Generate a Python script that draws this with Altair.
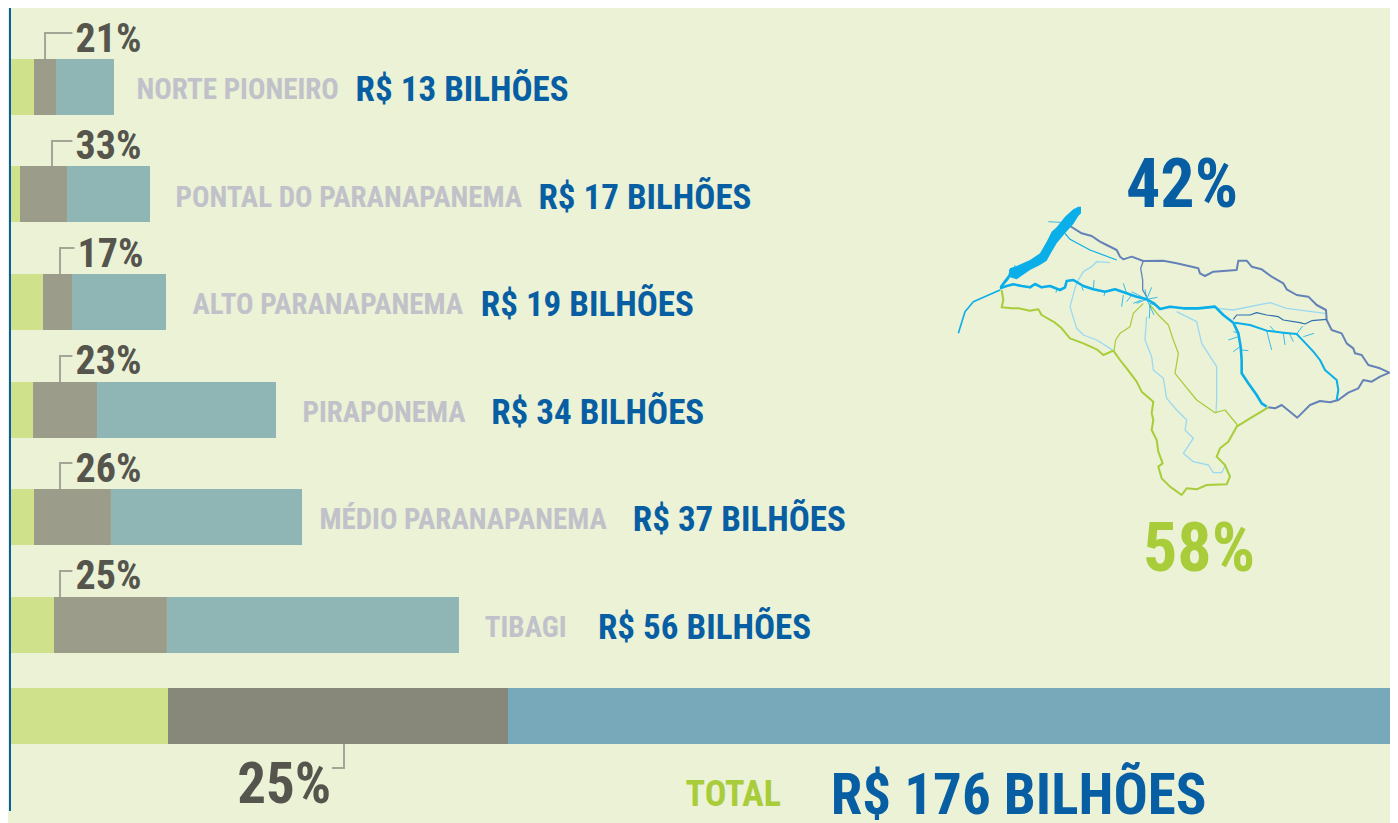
import altair as alt
import pandas as pd

# ---- Bars (R$ billions) ----
regions = ["NORTE PIONEIRO", "PONTAL DO PARANAPANEMA", "ALTO PARANAPANEMA", "PIRAPONEMA", "MÉDIO PARANAPANEMA", "TIBAGI"]
values = ["R$ 13 BILHÕES", "R$ 17 BILHÕES", "R$ 19 BILHÕES", "R$ 34 BILHÕES", "R$ 37 BILHÕES", "R$ 56 BILHÕES"]
pcts = ["21%", "33%", "17%", "23%", "26%", "25%"]
rows = [0, 1, 2, 3, 4, 5]
seg_a = [3.0, 1.25, 4.12, 2.88, 3.0, 5.5]
seg_b = [2.75, 5.88, 3.63, 8.0, 9.62, 14.12]
seg_c = [7.25, 10.37, 11.75, 22.37, 23.88, 36.5]
total_row = 5.849
total_segs = [19.75, 42.5, 113.75]

# label positions along the billions axis
region_x = [15.8, 20.68, 22.8, 36.55, 38.68, 59.35]
value_x = [43.2, 66.05, 58.85, 60.15, 77.85, 73.5]
pct_x = [8.2, 8.2, 8.45, 8.2, 8.2, 8.2]
stem_x = [4.38, 5.25, 6.25, 6.25, 6.25, 6.25]

# ---- Map paths (picture units) ----
north_border = [(360,78),(395,100),(425,108),(450,125),(470,135),(500,150),(510,170),(520,178),(545,170),(580,183),(640,182),(680,190),(745,205),(750,220),(765,228),(790,215),(830,212),(860,210),(865,182),(890,182),(905,200),(935,208),(965,230),(1000,250),(1010,268),(1040,285),(1075,290),(1100,315),(1128,330),(1130,360),(1145,390),(1175,400),(1190,430),(1210,445),(1215,460),(1235,465),(1255,495),(1290,505),(1318,518),(1290,530),(1265,545),(1240,540),(1225,565),(1195,578),(1165,600),(1140,607),(1110,603),(1080,615),(1060,635),(1042,653),(1020,635),(995,615),(975,625),(955,622)]
north_inner = [(580,183),(572,205),(578,240),(578,270),(590,290)]
dark_line = [(850,358),(860,345),(900,345),(920,338),(950,345),(985,350),(1000,360),(1050,368),(1065,372),(1085,362),(1130,358)]
south_border = [(155,270),(160,300),(155,322),(185,325),(205,325),(240,332),(265,328),(275,345),(315,368),(335,385),(360,415),(400,430),(440,448),(460,465),(490,452),(510,480),(530,505),(560,545),(575,575),(610,605),(605,640),(610,660),(605,690),(620,720),(625,755),(638,790),(625,800),(635,835),(660,860),(695,885),(710,865),(740,868),(770,855),(830,853),(840,830),(825,795),(800,770),(810,745),(835,725),(860,680),(900,655),(955,622)]
south_inner1 = [(580,310),(550,340),(540,380),(510,400),(497,420),(492,452)]
south_inner2 = [(600,315),(625,345),(655,375),(670,420),(685,460),(675,520),(695,545),(740,600),(795,638),(825,630),(860,672),(862,680)]
light1 = [(480,188),(440,185),(425,200),(400,215),(385,240),(375,265),(360,320),(380,385),(400,405),(440,420),(480,445),(488,452)]
light2 = [(590,350),(585,420),(605,470),(610,510),(640,535),(650,595),(680,630),(710,660),(705,690),(730,715),(700,760),(730,785),(775,795),(790,818),(815,818),(825,798)]
light3 = [(680,335),(740,365),(755,430),(800,500),(800,600),(798,640)]
light4 = [(800,325),(850,330),(960,308),(1010,325),(1125,340)]
main_river = [(150,265),(170,258),(190,253),(215,258),(240,262),(255,252),(275,262),(300,258),(330,270),(345,262),(350,243),(370,240),(400,258),(430,268),(465,275),(495,268),(530,280),(560,290),(590,298),(612,310),(630,327),(660,320),(700,325),(745,325),(795,320),(820,345),(850,368),(865,400),(872,440),(875,480),(875,520),(895,550),(920,585),(935,610),(950,620)]
branch = [(855,368),(900,375),(950,392),(1000,398),(1040,402),(1062,425),(1090,455),(1110,480),(1125,510),(1160,540),(1165,570),(1160,600)]
thin_north = [(345,100),(360,118),(420,150),(500,180)]
tail = [(150,270),(70,305),(45,335),(25,400)]
spurs = [
    [(590,298),(605,262)], [(590,298),(622,292)], [(590,298),(545,275)], [(590,298),(612,345)],
    [(590,298),(585,268)], [(590,298),(560,310)], [(575,300),(550,310)], [(600,310),(598,355)],
    [(530,280),(520,250)], [(520,285),(515,320)], [(432,240),(430,270)], [(465,275),(462,288)],
    [(545,285),(530,305)], [(600,310),(625,320)], [(395,260),(400,272)], [(320,268),(318,278)],
    [(865,410),(835,420)], [(870,440),(850,455)], [(875,450),(895,452)], [(868,400),(850,395)],
    [(950,392),(965,450)], [(1000,400),(1005,435)], [(1040,402),(1058,378)], [(1060,410),(1092,400)],
    [(975,395),(960,378)], [(1018,400),(1030,425)],
    [(180,225),(178,208)], [(192,218),(195,195)], [(295,65),(345,68)],
]
lake_x = [150, 165, 175, 180, 200, 240, 270, 290, 305, 320, 345, 370, 385, 393]
lake_top = [258, 238, 225, 205, 198, 180, 160, 125, 95, 82, 50, 28, 20, 20]
lake_bottom = [270, 252, 240, 232, 238, 210, 195, 182, 155, 130, 100, 72, 48, 40]

# ---- Scales ----
W, H = 1382, 815
sx = alt.Scale(domain=[-0.25, 172.5], nice=False, zero=False, padding=0)
sy = alt.Scale(domain=[-0.7336, 6.8443], nice=False, zero=False, reverse=True, round=True, padding=0)
mx = alt.Scale(domain=[-2826, 1320], nice=False, zero=False, padding=0)
my = alt.Scale(domain=[-576, 1869], nice=False, zero=False, reverse=True, padding=0)

X = lambda f: alt.X(f, type="quantitative", scale=sx, axis=None)
X2 = lambda f: alt.X2(f)
Y = lambda f: alt.Y(f, type="quantitative", scale=sy, axis=None)
MX = lambda f: alt.X(f, type="quantitative", scale=mx, axis=None)
MY = lambda f: alt.Y(f, type="quantitative", scale=my, axis=None)

BG = "#ebf2d6"
GREEN, GREY, TEAL = "#cfe28b", "#9b9c8a", "#8fb5b5"
TGREY, TTEAL = "#87887a", "#78a9bb"
BLUE, LGREY, DARK, LINEC, LIME = "#075ea3", "#c0c1c9", "#55554d", "#a3a596", "#a9cc3a"
FONT = "'Roboto Condensed', 'Liberation Sans', sans-serif"

# ---- Bars ----
bar_rows = []
for r, a, b, c in zip(rows, seg_a, seg_b, seg_c):
    bar_rows += [dict(row=r, x0=0, x1=a, col=GREEN),
                 dict(row=r, x0=a, x1=a+b, col=GREY),
                 dict(row=r, x0=a+b, x1=a+b+c, col=TEAL)]
ta, tb, tc = total_segs
bar_rows += [dict(row=total_row, x0=0, x1=ta, col=GREEN),
             dict(row=total_row, x0=ta, x1=ta+tb, col=TGREY),
             dict(row=total_row, x0=ta+tb, x1=ta+tb+tc, col=TTEAL)]
bars = alt.Chart(pd.DataFrame(bar_rows)).mark_bar(size=56, clip=True).encode(
    x=X("x0"), x2=X2("x1"), y=Y("row"), color=alt.Color("col:N", scale=None))

# ---- Connectors ----
conn = []
for r, s, p in zip(rows, stem_x, pct_x):
    conn += [dict(k=r, i=0, x=s, y=r-0.26), dict(k=r, i=1, x=s, y=r-0.5), dict(k=r, i=2, x=p-0.4, y=r-0.5)]
conn += [dict(k=9, i=0, x=41.75, y=total_row+0.26), dict(k=9, i=1, x=41.75, y=6.333), dict(k=9, i=2, x=40.25, y=6.333)]
connectors = alt.Chart(pd.DataFrame(conn)).mark_line(stroke=LINEC, strokeWidth=2, strokeJoin="miter").encode(
    x=X("x"), y=Y("y"), detail="k:N", order="i:Q")

# ---- Left rule ----
axis_line = alt.Chart(pd.DataFrame({"x": [0], "y": [-0.74], "y2": [6.734]})).mark_rule(stroke=BLUE, strokeWidth=2).encode(
    x=X("x"), y=Y("y"), y2=alt.Y2("y2"))

# ---- Text ----
def texts(df, xf, yf, size, color):
    return alt.Chart(df).mark_text(font=FONT, fontWeight="bold", fontSize=size, color=color,
                                   align="left", baseline="middle").encode(x=xf, y=yf, text="t:N")

label_rows = [r + 0.03 for r in rows]
reg = texts(pd.DataFrame({"x": region_x, "y": label_rows, "t": regions}), X("x"), Y("y"), 29, LGREY)
val = texts(pd.DataFrame({"x": value_x, "y": label_rows, "t": values}), X("x"), Y("y"), 35, BLUE)
pct = texts(pd.DataFrame({"x": pct_x, "y": [r-0.44 for r in rows], "t": pcts}), X("x"), Y("y"), 40, DARK)
t25 = texts(pd.DataFrame({"x": [28.4], "y": [6.503], "t": ["25%"]}), X("x"), Y("y"), 57, DARK)
ttl = texts(pd.DataFrame({"x": [84.45], "y": [6.586], "t": ["TOTAL"]}), X("x"), Y("y"), 36, LIME)
t176 = texts(pd.DataFrame({"x": [102.6], "y": [6.60], "t": ["R$ 176 BILHÕES"]}), X("x"), Y("y"), 57, BLUE)
t42 = texts(pd.DataFrame({"x": [528], "y": [-40], "t": ["42%"]}), MX("x"), MY("y"), 68, BLUE)
t58 = texts(pd.DataFrame({"x": [579], "y": [1052], "t": ["58%"]}), MX("x"), MY("y"), 68, LIME)

# ---- Map ----
def path(points, color, width):
    df = pd.DataFrame({"x": [p[0] for p in points], "y": [p[1] for p in points], "i": range(len(points))})
    return alt.Chart(df).mark_line(stroke=color, strokeWidth=width, strokeJoin="round").encode(
        x=MX("x"), y=MY("y"), order="i:Q")

MAPBLUE, CYAN, SKY = "#6482b8", "#0aaee8", "#9ad9f2"
map_layers = [
    path(light1, SKY, 1.3), path(light2, SKY, 1.3), path(light3, SKY, 1.3), path(light4, SKY, 1.3),
    path(south_inner1, LIME, 1.2), path(south_inner2, LIME, 1.2),
    path(south_border, LIME, 2),
    path(north_border, MAPBLUE, 2), path(north_inner, MAPBLUE, 1.3), path(dark_line, "#2f70ad", 1.2),
    path(main_river, CYAN, 2.6), path(branch, CYAN, 2), path(thin_north, CYAN, 1.2), path(tail, CYAN, 1.6),
] + [path(s, CYAN, 0.8) for s in spurs]
lake = alt.Chart(pd.DataFrame({"x": lake_x, "y": lake_top, "y2": lake_bottom})).mark_area(color=CYAN).encode(
    x=MX("x"), y=MY("y"), y2=alt.Y2("y2"))

chart = alt.layer(
    bars, connectors, reg, val, pct, t25, ttl, t176, t42, t58, *map_layers, lake, axis_line
).resolve_scale(x="independent", y="independent").properties(
    width=W, height=H, background=BG, padding=0,
    autosize=alt.AutoSizeParams(type="none", contains="padding"),
).configure_view(stroke=None)

chart.save("out.html", embed_options={"renderer": "svg", "actions": False})
